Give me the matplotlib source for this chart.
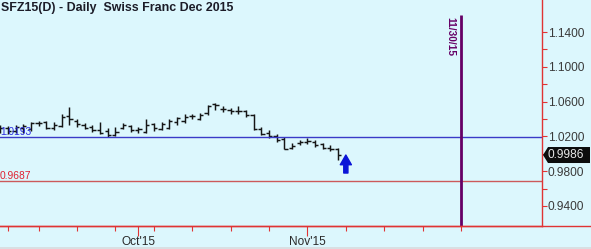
import numpy as np
import matplotlib
matplotlib.use("Agg")
import matplotlib.pyplot as plt
from matplotlib.patches import Polygon, Rectangle
from matplotlib.lines import Line2D

plt.rcParams['font.family'] = ['Liberation Sans', 'DejaVu Sans']

# ---------------- data ----------------
dates = ["2015-09-04", "2015-09-08", "2015-09-09", "2015-09-10", "2015-09-11",
         "2015-09-14", "2015-09-15", "2015-09-16", "2015-09-17", "2015-09-18",
         "2015-09-21", "2015-09-22", "2015-09-23", "2015-09-24", "2015-09-25",
         "2015-09-28", "2015-09-29", "2015-09-30", "2015-10-01", "2015-10-02",
         "2015-10-05", "2015-10-06", "2015-10-07", "2015-10-08", "2015-10-09",
         "2015-10-12", "2015-10-13", "2015-10-14", "2015-10-15", "2015-10-16",
         "2015-10-19", "2015-10-20", "2015-10-21", "2015-10-22", "2015-10-23",
         "2015-10-26", "2015-10-27", "2015-10-28", "2015-10-29", "2015-10-30",
         "2015-11-02", "2015-11-03", "2015-11-04", "2015-11-05", "2015-11-06"]
opens = [1.0250, 1.0300, 1.0262, 1.0300, 1.0280, 1.0350, 1.0360, 1.0300, 1.0320, 1.0430,
         1.0380, 1.0330, 1.0310, 1.0270, 1.0260, 1.0220, 1.0300, 1.0320, 1.0270, 1.0250,
         1.0340, 1.0290, 1.0300, 1.0370, 1.0380, 1.0430, 1.0400, 1.0470, 1.0570, 1.0520,
         1.0500, 1.0490, 1.0490, 1.0450, 1.0290, 1.0240, 1.0210, 1.0170, 1.0070, 1.0120,
         1.0140, 1.0140, 1.0110, 1.0070, 1.0060]
highs = [1.0331, 1.0320, 1.0331, 1.0343, 1.0366, 1.0377, 1.0377, 1.0366, 1.0457, 1.0538,
         1.0400, 1.0354, 1.0331, 1.0366, 1.0297, 1.0308, 1.0354, 1.0331, 1.0308, 1.0400,
         1.0354, 1.0366, 1.0400, 1.0423, 1.0457, 1.0457, 1.0469, 1.0561, 1.0584, 1.0549,
         1.0526, 1.0549, 1.0503, 1.0457, 1.0308, 1.0274, 1.0228, 1.0193, 1.0124, 1.0159,
         1.0182, 1.0159, 1.0124, 1.0101, 1.0067]
lows = [1.0239, 1.0228, 1.0239, 1.0239, 1.0262, 1.0320, 1.0285, 1.0274, 1.0308, 1.0331,
        1.0308, 1.0285, 1.0251, 1.0228, 1.0193, 1.0205, 1.0285, 1.0251, 1.0239, 1.0239,
        1.0262, 1.0274, 1.0285, 1.0331, 1.0354, 1.0400, 1.0389, 1.0446, 1.0503, 1.0480,
        1.0457, 1.0457, 1.0423, 1.0274, 1.0216, 1.0182, 1.0136, 1.0055, 1.0055, 1.0101,
        1.0113, 1.0078, 1.0055, 1.0032, 0.9929]
closes = [1.0300, 1.0262, 1.0310, 1.0320, 1.0350, 1.0350, 1.0300, 1.0330, 1.0420, 1.0400,
          1.0340, 1.0300, 1.0270, 1.0240, 1.0220, 1.0250, 1.0330, 1.0270, 1.0280, 1.0330,
          1.0300, 1.0340, 1.0380, 1.0410, 1.0420, 1.0430, 1.0450, 1.0550, 1.0560, 1.0520,
          1.0490, 1.0490, 1.0450, 1.0290, 1.0230, 1.0200, 1.0160, 1.0060, 1.0090, 1.0130,
          1.0150, 1.0100, 1.0070, 1.0050, 0.9986]

level_blue = 1.0193
level_red = 0.9687
marker_date = "2015-11-30"
marker_label = "11/30/15"
arrow_date = "2015-11-09"
arrow_tip = 0.9986
arrow_base = 0.9779
month_ticks = ["2015-10-01", "2015-11-02"]
month_labels = ["Oct'15", "Nov'15"]
week_ticks = ["2015-09-08", "2015-09-14", "2015-09-21", "2015-09-28", "2015-10-05",
              "2015-10-12", "2015-10-19", "2015-10-26", "2015-11-09", "2015-11-16",
              "2015-11-23", "2015-11-30"]
y_major = [0.94, 0.98, 1.02, 1.06, 1.10, 1.14]
y_minor = [0.96, 1.00, 1.04, 1.08, 1.12]
title = "SFZ15(D) - Daily  Swiss Franc Dec 2015"

# trading-day index positions
holidays = ["2015-09-07"]
start = dates[0]
def pos(d):
    return float(np.busday_count(start, d, holidays=holidays))

x = np.array([pos(d) for d in dates])

# ---------------- figure ----------------
W, H = 591, 249
bg = "#dcf7fd"
fig = plt.figure(figsize=(W / 100, H / 100), dpi=100, facecolor=bg)
ax = fig.add_axes([0, 23 / H, 542 / W, 226 / H])
ax.set_facecolor(bg)

ax.set_xlim(-0.03, 70.54)
ax.set_ylim(0.9170, 1.1768)

# OHLC bars
bc = "#151515"
ax.vlines(x, lows, highs, color=bc, lw=1.05)
ax.hlines(opens, x - 0.42, x, color=bc, lw=1.05)
ax.hlines(closes, x, x + 0.42, color=bc, lw=1.05)

# levels
ax.axhline(level_blue, color="#3a3ac8", lw=1.0)
ax.axhline(level_red, color="#cc5a5a", lw=1.0)
ax.text(0.0, level_blue, f"{level_blue:.4f}", color="#2a2ae0", fontsize=7.4,
        ha="left", va="bottom", transform=ax.get_yaxis_transform())
ax.text(0.0, level_red, f"{level_red:.4f}", color="#e02030", fontsize=7.4,
        ha="left", va="bottom", transform=ax.get_yaxis_transform())

# vertical date marker
mx = pos(marker_date)
ax.plot([mx, mx], [0.9170, 1.1768 - 15 / 870], color="#660066", lw=2.0,
        solid_capstyle="butt", clip_on=False)
ax.text(mx - 1.45, 1.1768 - 17 / 870, marker_label, color="#660066", fontsize=7.3,
        fontweight="bold", rotation=270, ha="center", va="top")

# arrow
ax_ = pos(arrow_date)
ax.annotate("", xy=(ax_, arrow_tip), xytext=(ax_, arrow_base),
            arrowprops=dict(arrowstyle="simple,head_width=0.8,head_length=0.7,tail_width=0.3",
                            fc="#0a14d8", ec="#0a14d8", shrinkA=0, shrinkB=0,
                            mutation_scale=10))

# axes styling
for s in ["left", "top"]:
    ax.spines[s].set_visible(False)
red = "#e03434"
ax.spines["right"].set_color(red)
ax.spines["bottom"].set_color(red)
ax.spines["right"].set_linewidth(1.0)
ax.spines["bottom"].set_linewidth(1.0)

ax.yaxis.tick_right()
ax.set_yticks(y_major)
ax.set_yticklabels([f"{v:.4f}" for v in y_major])
ax.set_yticks(y_minor, minor=True)
ax.tick_params(axis="y", which="both", direction="out", length=3.3, width=0.8,
               color=red, pad=0.8, labelsize=8.6, labelcolor="#3a3a3a")

ax.set_xticks([pos(d) for d in month_ticks])
ax.set_xticklabels(month_labels)
ax.set_xticks([pos(d) for d in week_ticks], minor=True)
ax.tick_params(axis="x", which="major", direction="out", length=7, width=0.8,
               color=red, pad=0.5, labelsize=8.6, labelcolor="#2a2a2a")
ax.tick_params(axis="x", which="minor", direction="out", length=3.6, width=0.8,
               color=red)

# bottom axis line across full width
fig.add_artist(Line2D([0, 1], [23 / H, 23 / H], color=red, lw=1.0,
                      transform=fig.transFigure))
# bottom strip
fig.add_artist(Rectangle((0, 0), 1, 2.5 / H, transform=fig.transFigure,
                         facecolor="#d8dfe2", edgecolor="none"))

# title
fig.text(1 / W, 1 - 8.5 / H, title, fontsize=8.9, fontweight="bold",
         color="#1c1c28", ha="left", va="center")

# last price tag
fig.canvas.draw()
lp = closes[-1]
py = ax.transData.transform((0, lp))[1]
px0 = ax.transAxes.transform((1, 0))[0]
tag = Polygon([[px0 + 1, py], [px0 + 6, py + 8], [W - 1, py + 8], [W - 1, py - 8],
               [px0 + 6, py - 8]], closed=True, transform=None,
              facecolor="#0c0c0c", edgecolor="none")
fig.add_artist(tag)
fig.text((px0 + 6) / W, py / H, f"{lp:.4f}", fontsize=8.6, color="#e8e8e8",
         ha="left", va="center")

fig.savefig("out.png", dpi=100, facecolor=bg)
